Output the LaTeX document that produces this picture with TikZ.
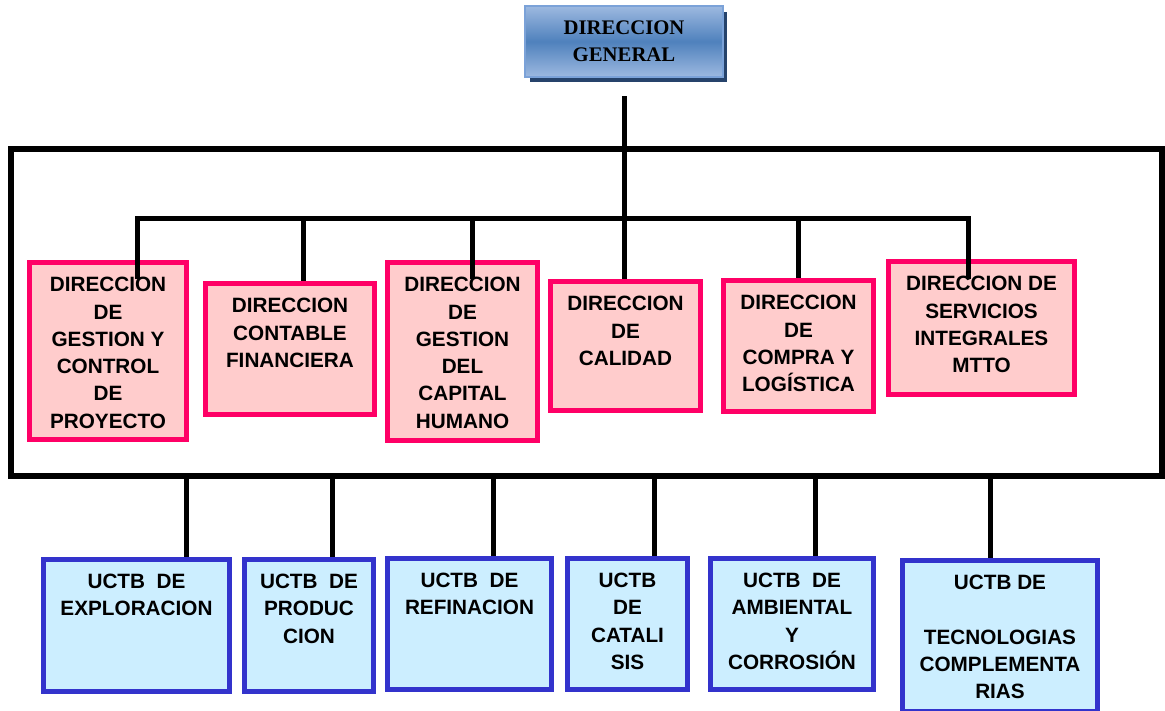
\documentclass[tikz,border=0pt]{standalone}
\usepackage{fontspec}
\setmainfont{Liberation Serif}
\newfontfamily\arialfont{Liberation Sans}
\usetikzlibrary{shadows}

\definecolor{pinkfill}{HTML}{FFCCCC}
\definecolor{pinkline}{HTML}{FF0066}
\definecolor{uctbfill}{HTML}{CCEEFF}
\definecolor{uctbline}{HTML}{3333CC}
\definecolor{dglight}{HTML}{9DB9E0}
\definecolor{dgmid}{HTML}{4F81BD}
\definecolor{dgline}{HTML}{7BA2D8}
\definecolor{dgshadow}{HTML}{26436B}

\tikzset{
  dirbox/.style={rectangle, draw=pinkline, fill=pinkfill, line width=0.1cm, inner sep=0pt},
  uctbbox/.style={rectangle, draw=uctbline, fill=uctbfill, line width=0.11cm, inner sep=0pt},
  boxlabel/.style={anchor=north, align=center, inner sep=0pt, yshift=-0.34cm,
    font=\arialfont\bfseries\fontsize{11.8}{15.5}\selectfont},
  link/.style={line width=0.1cm, black},
}

\begin{document}
\begin{tikzpicture}[x=0.02cm, y=-0.02cm]
    \useasboundingbox (0,0) rectangle (1165,710);

    % direccion general
    \node[rectangle, draw=dgline, line width=0.04cm, top color=dglight, bottom color=dglight, middle color=dgmid,
          minimum width=3.96cm, minimum height=1.42cm, align=center,
          drop shadow={fill=dgshadow, opacity=1, shadow xshift=0.09cm, shadow yshift=-0.11cm},
          font=\bfseries\fontsize{11.8}{15.5}\selectfont] at (624, 41.5) (dg) {DIRECCION\\GENERAL};

    % marco
    \draw[line width=0.11cm] (11, 149) rectangle (1162, 476);

    % direcciones
    \node[dirbox, minimum width=3.14cm, minimum height=3.54cm] at (108, 351)   (dgcp) {};
    \node[dirbox, minimum width=3.38cm, minimum height=2.62cm] at (290, 349)   (dcf)  {};
    \node[dirbox, minimum width=3.00cm, minimum height=3.56cm] at (462.5, 351.5) (dgch) {};
    \node[dirbox, minimum width=3.00cm, minimum height=2.58cm] at (625.5, 346) (dcal) {};
    \node[dirbox, minimum width=3.00cm, minimum height=2.62cm] at (798.5, 346) (dcl)  {};
    \node[dirbox, minimum width=3.72cm, minimum height=2.66cm] at (981.5, 328) (dsi)  {};

    \node[boxlabel] at (dgcp.north) (dgcp-t) {DIRECCION\\DE\\GESTION Y\\CONTROL\\DE\\PROYECTO};
    \node[boxlabel] at (dcf.north)  (dcf-t)  {DIRECCION\\CONTABLE\\FINANCIERA};
    \node[boxlabel] at (dgch.north) (dgch-t) {DIRECCION\\DE\\GESTION\\DEL\\CAPITAL\\HUMANO};
    \node[boxlabel] at (dcal.north) (dcal-t) {DIRECCION\\DE\\CALIDAD};
    \node[boxlabel] at (dcl.north)  (dcl-t)  {DIRECCION\\DE\\COMPRA Y\\LOGÍSTICA};
    \node[boxlabel] at (dsi.north)  (dsi-t)  {DIRECCION DE\\SERVICIOS\\INTEGRALES\\MTTO};

    % unidades
    \node[uctbbox, minimum width=3.72cm, minimum height=2.64cm] at (136.5, 625.5) (uexp) {};
    \node[uctbbox, minimum width=2.58cm, minimum height=2.64cm] at (309, 625.5)   (upro) {};
    \node[uctbbox, minimum width=3.28cm, minimum height=2.62cm] at (469.5, 624)   (uref) {};
    \node[uctbbox, minimum width=2.40cm, minimum height=2.62cm] at (627.5, 624)   (ucat) {};
    \node[uctbbox, minimum width=3.26cm, minimum height=2.62cm] at (792, 624)     (uamb) {};
    \node[uctbbox, minimum width=3.90cm, minimum height=3.02cm] at (1000, 636)    (utec) {};

    \node[boxlabel] at (uexp.north) (uexp-t) {UCTB\ \ DE\\EXPLORACION};
    \node[boxlabel] at (upro.north) (upro-t) {UCTB\ \ DE\\PRODUC\\CION};
    \node[boxlabel] at (uref.north) (uref-t) {UCTB\ \ DE\\REFINACION};
    \node[boxlabel] at (ucat.north) (ucat-t) {UCTB\\DE\\CATALI\\SIS};
    \node[boxlabel] at (uamb.north) (uamb-t) {UCTB\ \ DE\\AMBIENTAL\\Y\\CORROSIÓN};
    \node[boxlabel] at (utec.north) (utec-t) {UCTB DE\\[15.5pt]TECNOLOGIAS\\COMPLEMENTA\\RIAS};

    % conexiones
    \coordinate (dgtail) at (624.5, 96);
    \coordinate (b1) at (137, 218);
    \coordinate (b2) at (303, 218);
    \coordinate (b3) at (472, 218);
    \coordinate (b5) at (798, 218);
    \coordinate (b6) at (968, 218);

    \draw[link] (dgtail) -- (dgtail |- dcal.north);
    \draw[link] (b1 |- dcal.north) -- (b1) -- (b6) -- (b6 |- dcal.north);
    \draw[link] (b2) -- (b2 |- dcf.north);
    \draw[link] (b3) -- (b3 |- dcal.north);
    \draw[link] (b5) -- (b5 |- dcl.north);

    \coordinate (f1) at (186, 476);
    \coordinate (f2) at (332, 476);
    \coordinate (f3) at (493, 476);
    \coordinate (f4) at (654, 476);
    \coordinate (f5) at (815, 476);
    \coordinate (f6) at (990, 476);

    \draw[link] (f1) -- (f1 |- uexp.north);
    \draw[link] (f2) -- (f2 |- upro.north);
    \draw[link] (f3) -- (f3 |- uref.north);
    \draw[link] (f4) -- (f4 |- ucat.north);
    \draw[link] (f5) -- (f5 |- uamb.north);
    \draw[link] (f6) -- (f6 |- utec.north);
\end{tikzpicture}
\end{document}
